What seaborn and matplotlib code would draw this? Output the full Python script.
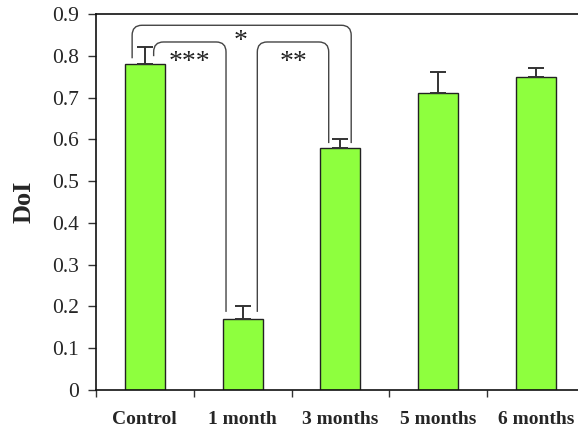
import numpy as np
import pandas as pd
import matplotlib
matplotlib.use("Agg")
import matplotlib.pyplot as plt
from matplotlib.path import Path
from matplotlib.patches import PathPatch
import seaborn as sns

groups = ["Control", "1 month", "3 months", "5 months", "6 months"]
doi = [0.78, 0.17, 0.58, 0.71, 0.75]
sem = [0.04, 0.03, 0.02, 0.05, 0.02]

# significance brackets: (x_left, x_right, y_left_end, y_right_end, y_top, label, label_x, label_y)
brackets = [
    (-0.13, 2.11, 0.794, 0.591, 0.873, "*", 0.98, 0.835),
    (0.09, 0.83, 0.799, 0.187, 0.833, "***", 0.46, 0.785),
    (1.15, 1.88, 0.187, 0.591, 0.833, "**", 1.52, 0.785),
]

sns.set_style("ticks")
plt.rcParams["font.family"] = ["Liberation Serif", "DejaVu Serif"]

fig = plt.figure(figsize=(5.78, 4.32), dpi=100)
ax = fig.add_axes([0.166, 0.0972, 0.846, 0.8704])

df = pd.DataFrame({"group": groups, "doi": doi})
sns.barplot(data=df, x="group", y="doi", color="#8EFF3E", saturation=1,
            width=0.41, edgecolor="#222222", linewidth=1.0, errorbar=None, ax=ax)
ax.errorbar(np.arange(len(groups)), doi, yerr=[np.zeros(len(sem)), sem],
            fmt="none", ecolor="#333333", elinewidth=1.4, capsize=6, capthick=1.4)

ax.set_xlim(-0.5, 4.5)
ax.set_ylim(0, 0.9)
ax.set_yticks(np.arange(0, 0.91, 0.1))
ax.set_yticklabels(["0"] + [f"{v:.1f}" for v in np.arange(0.1, 0.91, 0.1)], fontsize=15.5)
ax.set_xticks(range(len(groups)))
ax.set_xticklabels(groups, fontsize=14, fontweight="bold")
ax.set_xticks(np.arange(-0.5, 4.6, 1.0), minor=True)
ax.tick_params(axis="x", which="major", length=0, pad=15)
ax.tick_params(axis="x", which="minor", length=5, width=1, direction="out", color="#333333")
ax.tick_params(axis="y", length=6, width=1, direction="out", color="#333333", pad=6)
ax.set_xlabel("")
ax.set_ylabel("DoI", fontsize=19, fontweight="bold", labelpad=12)
for s in ax.spines.values():
    s.set_visible(True)
    s.set_color("#111111")
    s.set_linewidth(1.2)


def bracket(ax, x0, x1, y0, y1, top, rx=0.1, ry=0.024):
    verts = [(x0, y0), (x0, top - ry), (x0, top), (x0 + rx, top),
             (x1 - rx, top), (x1, top), (x1, top - ry), (x1, y1)]
    codes = [Path.MOVETO, Path.LINETO, Path.CURVE3, Path.CURVE3,
             Path.LINETO, Path.CURVE3, Path.CURVE3, Path.LINETO]
    ax.add_patch(PathPatch(Path(verts, codes), fill=False, edgecolor="#444444",
                           linewidth=1.0, clip_on=False))


for x0, x1, y0, y1, top, lab, lx, ly in brackets:
    bracket(ax, x0, x1, y0, y1, top)
    ax.text(lx, ly, lab, ha="center", va="center", fontsize=20, color="#222222")

fig.savefig("out.png", dpi=100)
